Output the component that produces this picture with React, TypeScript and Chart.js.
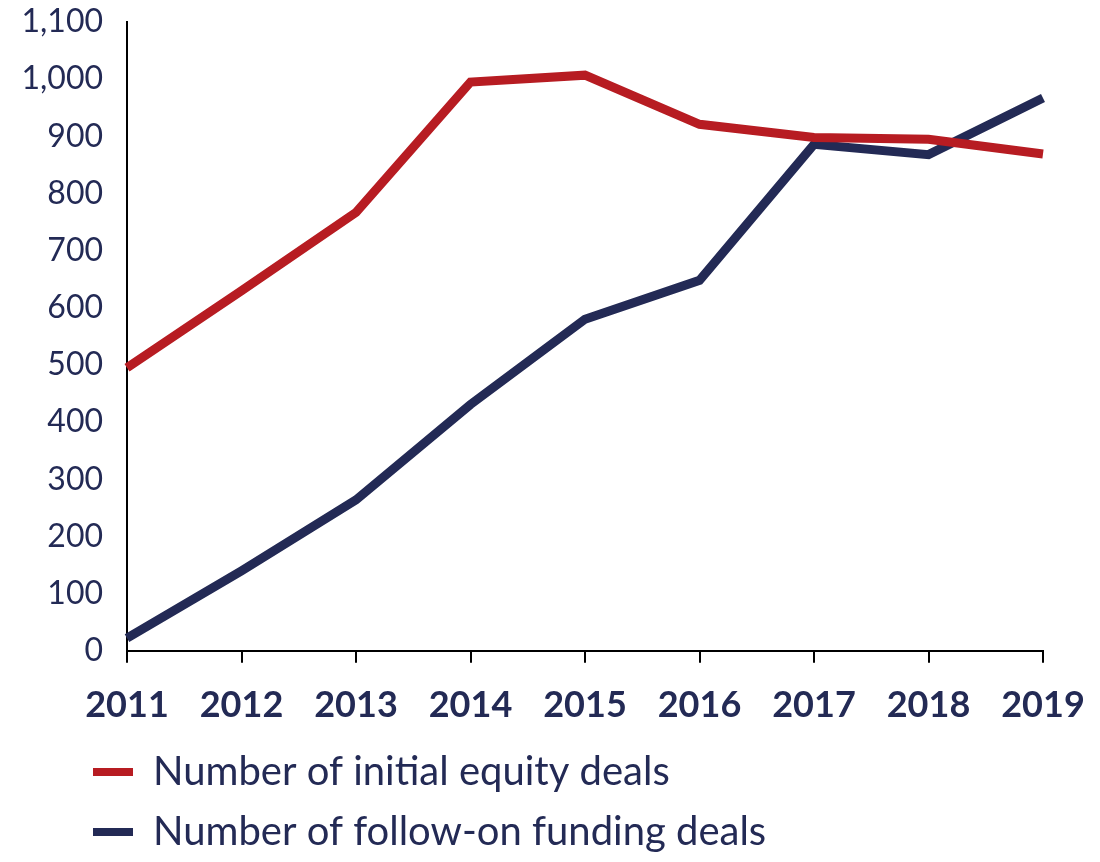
import React, { useEffect, useRef } from "react";
import { Chart, registerables } from "chart.js";

Chart.register(...registerables);

const years = ["2011", "2012", "2013", "2014", "2015", "2016", "2017", "2018", "2019"];
const initialEquity = [495, 630, 767, 995, 1007, 921, 898, 895, 869];
const followOn = [22, 140, 264, 431, 580, 648, 886, 868, 967];
const seriesNames = ["Number of initial equity deals", "Number of follow-on funding deals"];

const RED = "#B71C22";
const NAVY = "#232A55";
const FONT = "Lato, 'Open Sans', sans-serif";
const LEGEND_LEFT = 73;

const legendShift = {
  id: "legendShift",
  afterLayout(chart: any) {
    if (chart.legend) chart.legend.left = LEGEND_LEFT;
  },
};

export default function App() {
  const ref = useRef<HTMLCanvasElement | null>(null);

  useEffect(() => {
    document.body.style.margin = "0";
    if (!ref.current) return;
    const chart = new Chart(ref.current, {
      type: "line",
      data: {
        labels: years,
        datasets: [
          {
            label: seriesNames[0],
            data: initialEquity,
            borderColor: RED,
            backgroundColor: RED,
            borderWidth: 9,
            pointRadius: 0,
            tension: 0,
          },
          {
            label: seriesNames[1],
            data: followOn,
            borderColor: NAVY,
            backgroundColor: NAVY,
            borderWidth: 9,
            pointRadius: 0,
            tension: 0,
          },
        ],
      },
      plugins: [legendShift],
      options: {
        responsive: false,
        animation: false,
        devicePixelRatio: 1,
        layout: { padding: { left: 0, right: 57, top: 22, bottom: 0 } },
        plugins: {
          tooltip: { enabled: false },
          legend: {
            position: "bottom",
            align: "start",
            labels: {
              boxWidth: 40,
              boxHeight: 8,
              padding: 20,
              color: NAVY,
              font: { family: FONT, size: 40 },
              generateLabels: (c: any) =>
                c.data.datasets.map((d: any, i: number) => ({
                  text: d.label,
                  fillStyle: d.borderColor,
                  strokeStyle: d.borderColor,
                  lineWidth: 0,
                  hidden: false,
                  datasetIndex: i,
                  fontColor: NAVY,
                })),
            },
          },
        },
        scales: {
          x: {
            offset: false,
            afterFit: (scale: any) => {
              scale.height -= 16;
              scale.paddingLeft = 0;
              scale.paddingRight = 0;
            },
            grid: {
              display: true,
              drawOnChartArea: false,
              drawTicks: true,
              tickLength: 12,
              color: "#000",
              lineWidth: 2,
            },
            border: { display: true, color: "#000", width: 2 },
            ticks: {
              color: NAVY,
              font: { family: FONT, size: 36, weight: "bold" },
              padding: 21,
              maxRotation: 0,
              autoSkip: false,
            },
          },
          y: {
            min: 0,
            max: 1100,
            afterFit: (scale: any) => {
              scale.width = 127;
              scale.paddingTop = 0;
              scale.paddingBottom = 0;
            },
            grid: { display: false, drawTicks: false },
            border: { display: true, color: "#000", width: 2 },
            ticks: {
              stepSize: 100,
              color: NAVY,
              padding: 24,
              font: { family: FONT, size: 32 },
              callback: (v: any) => Number(v).toLocaleString("en-US"),
            },
          },
        },
      },
    });
    return () => chart.destroy();
  }, []);

  return (
    <div style={{ width: 1100, height: 862 }}>
      <canvas ref={ref} width={1100} height={862} />
    </div>
  );
}
